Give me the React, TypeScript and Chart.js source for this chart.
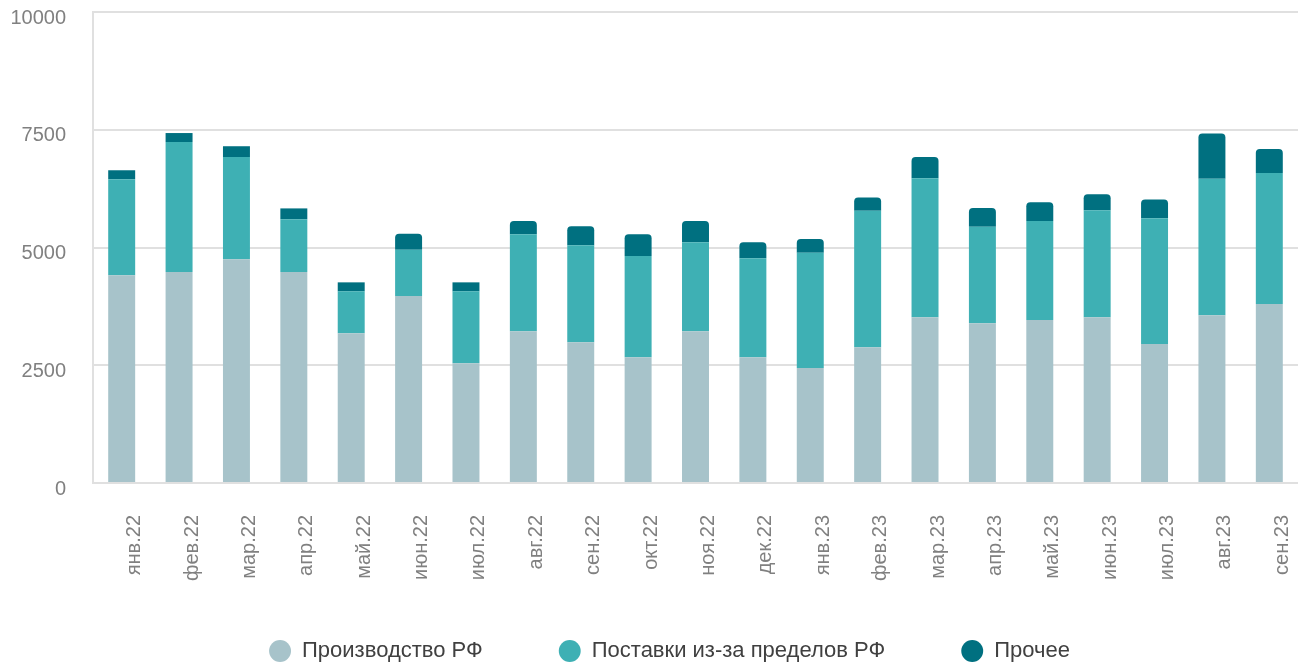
import React, { useEffect, useRef } from "react";
import { Chart, registerables } from "chart.js";

Chart.register(...registerables);

const categories = [
  "янв.22", "фев.22", "мар.22", "апр.22", "май.22", "июн.22", "июл.22",
  "авг.22", "сен.22", "окт.22", "ноя.22", "дек.22", "янв.23", "фев.23",
  "мар.23", "апр.23", "май.23", "июн.23", "июл.23", "авг.23", "сен.23",
];

const productionRF = [
  4410, 4480, 4750, 4480, 3180, 3970, 2540, 3220, 2990, 2670, 3220,
  2670, 2440, 2880, 3520, 3390, 3460, 3520, 2950, 3560, 3800,
];

const importsRF = [
  2040, 2760, 2170, 1120, 890, 980, 1530, 2060, 2060, 2150, 1890,
  2100, 2450, 2900, 2950, 2050, 2100, 2270, 2670, 2900, 2780,
];

const otherRF = [
  190, 190, 230, 230, 190, 340, 190, 280, 400, 460, 450,
  340, 290, 280, 450, 400, 400, 340, 400, 960, 510,
];

const seriesNames = ["Производство РФ", "Поставки из-за пределов РФ", "Прочее"];
const yTicks = [0, 2500, 5000, 7500, 10000];

const COLORS = ["#a7c3ca", "#3eb0b4", "#007080"];
const FONT = "'Liberation Sans', Arial, Helvetica, sans-serif";

const layoutTweaks = {
  id: "layoutTweaks",
  afterLayout(chart: any) {
    const x = chart.scales.x;
    if (x) x.bottom = chart.height;
    const lg = chart.legend;
    if (lg) {
      lg.left += 14;
      lg.right += 14;
    }
  },
};

export default function App() {
  const ref = useRef<HTMLCanvasElement | null>(null);

  useEffect(() => {
    if (!ref.current) return;
    const chart = new Chart(ref.current, {
      type: "bar",
      data: {
        labels: categories,
        datasets: [
          { label: seriesNames[0], data: productionRF, backgroundColor: COLORS[0] },
          { label: seriesNames[1], data: importsRF, backgroundColor: COLORS[1] },
          {
            label: seriesNames[2],
            data: otherRF,
            backgroundColor: COLORS[2],
            borderRadius: (ctx: any) =>
              otherRF[ctx.dataIndex] >= 250
                ? { topLeft: 4, topRight: 4, bottomLeft: 0, bottomRight: 0 }
                : 0,
            borderSkipped: "start",
          },
        ],
      },
      plugins: [layoutTweaks],
      options: {
        responsive: true,
        maintainAspectRatio: false,
        animation: false,
        datasets: { bar: { barPercentage: 0.47, categoryPercentage: 1 } },
        layout: { padding: { left: 8, right: -5, top: 12, bottom: -9 } },
        plugins: {
          tooltip: { enabled: false },
          legend: {
            position: "bottom",
            labels: {
              usePointStyle: true,
              pointStyle: "circle",
              boxWidth: 22,
              boxHeight: 15.5,
              padding: 76,
              color: "#404040",
              font: { family: FONT, size: 22 },
            },
          },
        },
        scales: {
          x: {
            stacked: true,
            grid: { display: false, drawTicks: false },
            border: { display: true, color: "#e0e0e0", width: 2 },
            ticks: {
              minRotation: 90,
              maxRotation: 90,
              autoSkip: false,
              padding: 32,
              labelOffset: 13,
              color: "#808080",
              font: { family: FONT, size: 20 },
            },
            afterFit: (scale: any) => {
              scale.height = 81;
              scale.paddingLeft = 0;
              scale.paddingRight = 0;
            },
          },
          y: {
            stacked: true,
            min: 0,
            max: 10000,
            afterBuildTicks: (scale: any) => {
              scale.ticks = yTicks.map((v) => ({ value: v }));
            },
            grid: { color: "#e0e0e0", lineWidth: 2, drawTicks: false },
            border: { display: true, color: "#e0e0e0", width: 2 },
            ticks: {
              padding: 27,
              labelOffset: 6,
              color: "#808080",
              font: { family: FONT, size: 20 },
              callback: (v: any) => String(v),
            },
            afterFit: (scale: any) => {
              scale.width = 85;
              scale.paddingTop = 0;
              scale.paddingBottom = 0;
            },
          },
        },
      },
    });
    return () => chart.destroy();
  }, []);

  return (
    <div style={{ position: "fixed", left: 0, top: 0, width: 1298, height: 663 }}>
      <canvas ref={ref} />
    </div>
  );
}
